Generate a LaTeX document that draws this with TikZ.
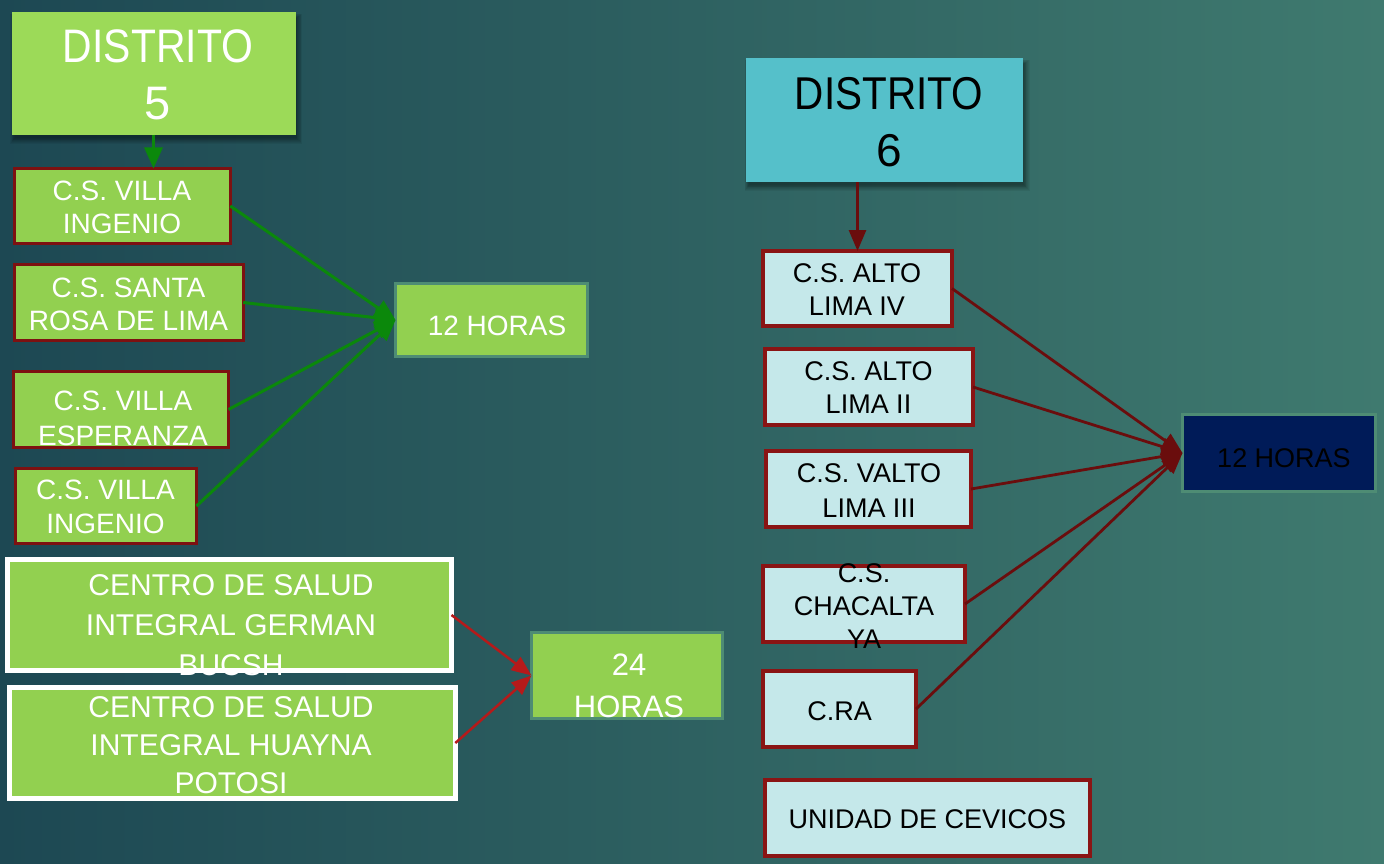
\documentclass[tikz,border=0pt]{standalone}
\usepackage{fontspec}
\usepackage{graphicx}
\setmainfont{Liberation Sans}
\usetikzlibrary{arrows.meta,calc}
\newcommand{\mlines}[1]{\begin{tabular}[t]{@{}c@{}}#1\end{tabular}}
\definecolor{bgl}{HTML}{1D4853}
\definecolor{bgr}{HTML}{3F7A6F}
\definecolor{lgreen}{HTML}{92D050}
\definecolor{dfivefill}{HTML}{9CDA58}
\definecolor{boxred}{HTML}{7D1111}
\definecolor{boxredr}{HTML}{8A1414}
\definecolor{cyanfill}{HTML}{C5E8EA}
\definecolor{dsixfill}{HTML}{55C0CA}
\definecolor{navyfill}{HTML}{001B58}
\definecolor{hborder}{HTML}{4E8C74}
\definecolor{garrow}{HTML}{0B880B}
\definecolor{rarrow}{HTML}{B51A1A}
\definecolor{darrow}{HTML}{6A0D0D}
\pgfdeclarelayer{back}
\pgfdeclarelayer{shade}
\pgfsetlayers{back,shade,main}
\begin{document}
\begin{tikzpicture}[x=1pt,y=-1pt,
  sz/.style 2 args={minimum width=#1pt, minimum height=#2pt, inner sep=0pt, outer sep=0pt},
  gbox/.style={draw=boxred, line width=3pt, fill=lgreen},
  wbox/.style={draw=white, line width=5pt, fill=lgreen},
  hbox/.style={draw=hborder, line width=3pt, fill=lgreen},
  cbox/.style={draw=boxredr, line width=4pt, fill=cyanfill},
  nbox/.style={draw=hborder, line width=3pt, fill=navyfill},
  wt/.style={text=white, anchor=base, inner sep=0pt},
  bt/.style={text=black, anchor=base, inner sep=0pt},
  fmid/.style={font=\fontsize{28}{33}\selectfont},
  fsm/.style={font=\fontsize{27}{33}\selectfont},
  garr/.style={draw=garrow, line width=3pt, -{Triangle[length=21pt,width=18pt]}},
  rarr/.style={draw=rarrow, line width=2.5pt, -{Triangle[length=20pt,width=16pt]}},
  darr/.style={draw=darrow, line width=2.8pt, -{Triangle[length=21pt,width=17pt]}}
]
\begin{pgfonlayer}{back}
\useasboundingbox (0,0) rectangle (1384,864);
\fill[left color=bgl, right color=bgr] (0,0) rectangle (1384,864);
\end{pgfonlayer}

% ---------- District 5 ----------
\node[sz={284}{123}, fill=dfivefill] (d5) at (153.5,73.5) {};
\node[wt, font=\fontsize{47}{57}\selectfont] (t5) at (158,63) {\mlines{\scalebox{0.87}[1]{DISTRITO}\\5}};

\node[gbox, sz={216}{75}] (vi1) at (122.3,206) {};
\node[wt, fmid] (tvi1) at (122,200) {\mlines{C.S. VILLA\\INGENIO}};
\node[gbox, sz={229}{76}] (sr) at (128.8,302.5) {};
\node[wt, fmid] (tsr) at (128.5,297) {\mlines{C.S. SANTA\\ROSA DE LIMA}};
\node[gbox, sz={215}{76}] (esp) at (121,409.5) {};
\node[wt, font=\fontsize{28}{35}\selectfont] (tesp) at (123,410) {\mlines{C.S. VILLA\\ESPERANZA}};
\node[gbox, sz={181}{75}] (vi2) at (106,506) {};
\node[wt, font=\fontsize{28}{34}\selectfont] (tvi2) at (105.5,499) {\mlines{C.S. VILLA\\INGENIO}};

\node[hbox, sz={192}{73}] (h12) at (491.5,320) {};
\node[wt, fmid] (th12) at (497,335) {12 HORAS};

\node[wbox, sz={444}{111}] (ger) at (229.5,615) {};
\node[wt, font=\fontsize{30}{40}\selectfont] (tger) at (231,595) {\mlines{CENTRO DE SALUD\\INTEGRAL GERMAN\\BUCSH}};
\node[wbox, sz={446}{111}] (hua) at (232.3,743) {};
\node[wt, font=\fontsize{30}{38}\selectfont] (thua) at (231,717) {\mlines{CENTRO DE SALUD\\INTEGRAL HUAYNA\\POTOSI}};

\node[hbox, sz={191}{86}] (h24) at (627,675.5) {};
\node[wt, font=\fontsize{31}{42}\selectfont] (th24) at (629,675) {\mlines{24\\HORAS}};

\draw[garr] (d5.south) -- (d5.south |- vi1.north);
\draw[garr] (vi1.east) -- (h12.west);
\draw[garr] (sr.east) -- (h12.west);
\draw[garr] (esp.east) -- (h12.west);
\draw[garr] (vi2.east) -- (h12.west);
\draw[rarr] (ger.east) -- (h24.west);
\draw[rarr] (hua.east) -- (h24.west);

% ---------- District 6 ----------
\node[sz={277}{124}, fill=dsixfill] (d6) at (884.5,120) {};
\node[bt, font=\fontsize{46}{57}\selectfont] (t6) at (889,110) {\mlines{\scalebox{0.88}[1]{DISTRITO}\\6}};

\node[cbox, sz={189}{75}] (a4) at (857.5,288.5) {};
\node[bt, fsm] (ta4) at (857,282) {\mlines{C.S. ALTO\\LIMA IV}};
\node[cbox, sz={208}{76}] (a2) at (869,387) {};
\node[bt, fsm] (ta2) at (868.5,380) {\mlines{C.S. ALTO\\LIMA II}};
\node[cbox, sz={205}{76}] (v3) at (868.5,489) {};
\node[bt, font=\fontsize{27}{35}\selectfont] (tv3) at (869,482) {\mlines{C.S. VALTO\\LIMA III}};
\node[cbox, sz={202}{76}] (ch) at (864,604) {};
\node[bt, fsm] (tch) at (864,582) {\mlines{C.S.\\CHACALTA\\YA}};
\node[cbox, sz={153}{76}] (cra) at (839.5,709) {};
\node[bt, fsm] (tcra) at (839.5,720) {C.RA};
\node[cbox, sz={325}{76}] (cev) at (927.5,818) {};
\node[bt, fsm] (tcev) at (927.5,828) {UNIDAD DE CEVICOS};

\node[nbox, sz={193}{77}] (hb) at (1279,453) {};
\node[bt, fsm] (thb) at (1284,467) {12 HORAS};

\draw[darr] (d6.south -| a4.north) -- (a4.north);
\draw[darr] (a4.east) -- (hb.west);
\draw[darr] (a2.east) -- (hb.west);
\draw[darr] (v3.east) -- (hb.west);
\draw[darr] (ch.east) -- (hb.west);
\draw[darr] (cra.east) -- (hb.west);

% soft shadows under the district boxes
\begin{pgfonlayer}{shade}
\foreach \i in {0,...,7} {
  \fill[black, fill opacity=0.06] ($(d5.north west)+(3-0.6*\i,6-0.6*\i)$) rectangle ($(d5.south east)+(1+0.8*\i,3+0.8*\i)$);
  \fill[black, fill opacity=0.06] ($(d6.north west)+(3-0.6*\i,6-0.6*\i)$) rectangle ($(d6.south east)+(1+0.8*\i,3+0.8*\i)$);
}
\end{pgfonlayer}
\end{tikzpicture}
\end{document}
